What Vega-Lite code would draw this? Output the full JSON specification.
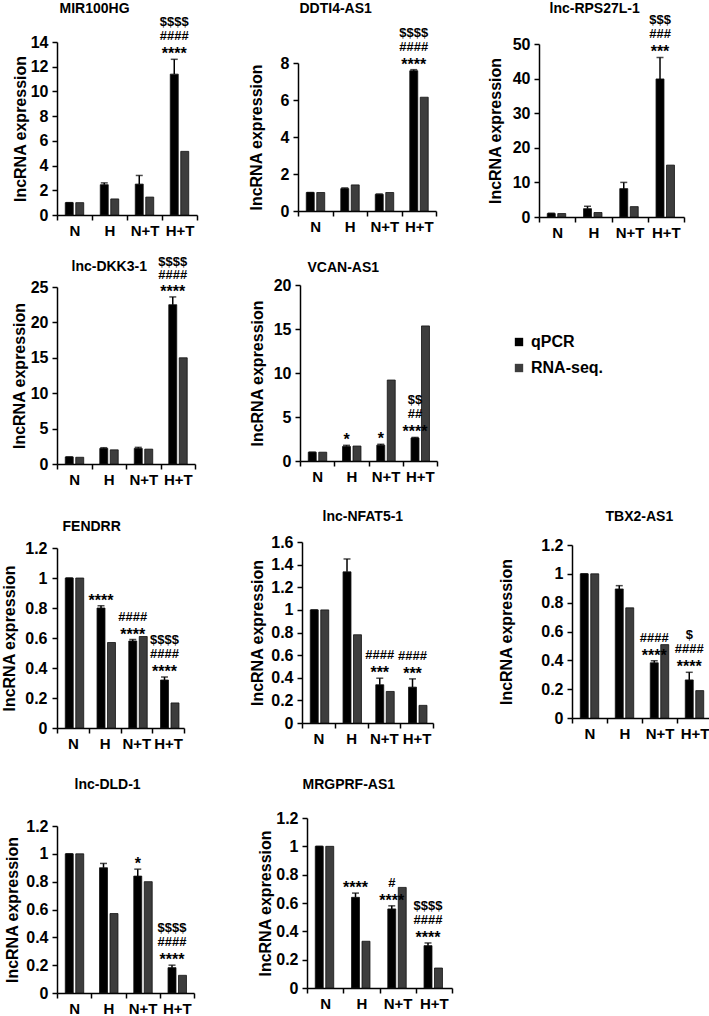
{
  "$schema": "https://vega.github.io/schema/vega-lite/v6.json",
  "background": "white",
  "padding": {"left": 1, "top": 1, "right": 0, "bottom": 0},
  "data": {"values": [
    {"g":"MIR100HG","c":"N","s":"qPCR","v":1.0,"hi":1.0},
    {"g":"MIR100HG","c":"N","s":"RNA-seq.","v":1.0},
    {"g":"MIR100HG","c":"H","s":"qPCR","v":2.45,"hi":2.6},
    {"g":"MIR100HG","c":"H","s":"RNA-seq.","v":1.3},
    {"g":"MIR100HG","c":"N+T","s":"qPCR","v":2.5,"hi":3.2},
    {"g":"MIR100HG","c":"N+T","s":"RNA-seq.","v":1.45},
    {"g":"MIR100HG","c":"H+T","s":"qPCR","v":11.4,"hi":12.6,"d":"$$$$","h":"####","a":"****"},
    {"g":"MIR100HG","c":"H+T","s":"RNA-seq.","v":5.15},
    {"g":"DDTI4-AS1","c":"N","s":"qPCR","v":1.0,"hi":1.0},
    {"g":"DDTI4-AS1","c":"N","s":"RNA-seq.","v":1.0},
    {"g":"DDTI4-AS1","c":"H","s":"qPCR","v":1.21,"hi":1.25},
    {"g":"DDTI4-AS1","c":"H","s":"RNA-seq.","v":1.41},
    {"g":"DDTI4-AS1","c":"N+T","s":"qPCR","v":0.9,"hi":0.92},
    {"g":"DDTI4-AS1","c":"N+T","s":"RNA-seq.","v":1.0},
    {"g":"DDTI4-AS1","c":"H+T","s":"qPCR","v":7.58,"hi":7.64,"d":"$$$$","h":"####","a":"****"},
    {"g":"DDTI4-AS1","c":"H+T","s":"RNA-seq.","v":6.15},
    {"g":"lnc-RPS27L-1","c":"N","s":"qPCR","v":1.0,"hi":1.1},
    {"g":"lnc-RPS27L-1","c":"N","s":"RNA-seq.","v":1.0},
    {"g":"lnc-RPS27L-1","c":"H","s":"qPCR","v":2.4,"hi":3.1},
    {"g":"lnc-RPS27L-1","c":"H","s":"RNA-seq.","v":1.3},
    {"g":"lnc-RPS27L-1","c":"N+T","s":"qPCR","v":8.2,"hi":10.0},
    {"g":"lnc-RPS27L-1","c":"N+T","s":"RNA-seq.","v":3.0},
    {"g":"lnc-RPS27L-1","c":"H+T","s":"qPCR","v":39.9,"hi":46.1,"d":"$$$","h":"###","a":"***"},
    {"g":"lnc-RPS27L-1","c":"H+T","s":"RNA-seq.","v":15.0},
    {"g":"lnc-DKK3-1","c":"N","s":"qPCR","v":1.0,"hi":1.0},
    {"g":"lnc-DKK3-1","c":"N","s":"RNA-seq.","v":0.95},
    {"g":"lnc-DKK3-1","c":"H","s":"qPCR","v":2.2,"hi":2.3},
    {"g":"lnc-DKK3-1","c":"H","s":"RNA-seq.","v":2.0},
    {"g":"lnc-DKK3-1","c":"N+T","s":"qPCR","v":2.2,"hi":2.35},
    {"g":"lnc-DKK3-1","c":"N+T","s":"RNA-seq.","v":2.1},
    {"g":"lnc-DKK3-1","c":"H+T","s":"qPCR","v":22.5,"hi":23.6,"d":"$$$$","h":"####","a":"****"},
    {"g":"lnc-DKK3-1","c":"H+T","s":"RNA-seq.","v":15.0},
    {"g":"VCAN-AS1","c":"N","s":"qPCR","v":1.0,"hi":1.0},
    {"g":"VCAN-AS1","c":"N","s":"RNA-seq.","v":1.0},
    {"g":"VCAN-AS1","c":"H","s":"qPCR","v":1.65,"hi":1.78,"a":"*"},
    {"g":"VCAN-AS1","c":"H","s":"RNA-seq.","v":1.7},
    {"g":"VCAN-AS1","c":"N+T","s":"qPCR","v":1.8,"hi":1.9,"a":"*"},
    {"g":"VCAN-AS1","c":"N+T","s":"RNA-seq.","v":9.2},
    {"g":"VCAN-AS1","c":"H+T","s":"qPCR","v":2.62,"hi":2.68,"d":"$$","h":"##","a":"****"},
    {"g":"VCAN-AS1","c":"H+T","s":"RNA-seq.","v":15.35},
    {"g":"FENDRR","c":"N","s":"qPCR","v":1.0,"hi":1.0},
    {"g":"FENDRR","c":"N","s":"RNA-seq.","v":1.0},
    {"g":"FENDRR","c":"H","s":"qPCR","v":0.8,"hi":0.815,"a":"****"},
    {"g":"FENDRR","c":"H","s":"RNA-seq.","v":0.57},
    {"g":"FENDRR","c":"N+T","s":"qPCR","v":0.58,"hi":0.59,"h":"####","a":"****"},
    {"g":"FENDRR","c":"N+T","s":"RNA-seq.","v":0.61},
    {"g":"FENDRR","c":"H+T","s":"qPCR","v":0.32,"hi":0.34,"d":"$$$$","h":"####","a":"****"},
    {"g":"FENDRR","c":"H+T","s":"RNA-seq.","v":0.167},
    {"g":"lnc-NFAT5-1","c":"N","s":"qPCR","v":1.0,"hi":1.0},
    {"g":"lnc-NFAT5-1","c":"N","s":"RNA-seq.","v":1.0},
    {"g":"lnc-NFAT5-1","c":"H","s":"qPCR","v":1.336,"hi":1.45},
    {"g":"lnc-NFAT5-1","c":"H","s":"RNA-seq.","v":0.78},
    {"g":"lnc-NFAT5-1","c":"N+T","s":"qPCR","v":0.338,"hi":0.396,"h":"####","a":"***"},
    {"g":"lnc-NFAT5-1","c":"N+T","s":"RNA-seq.","v":0.279},
    {"g":"lnc-NFAT5-1","c":"H+T","s":"qPCR","v":0.317,"hi":0.39,"h":"####","a":"***"},
    {"g":"lnc-NFAT5-1","c":"H+T","s":"RNA-seq.","v":0.156},
    {"g":"TBX2-AS1","c":"N","s":"qPCR","v":1.0,"hi":1.0},
    {"g":"TBX2-AS1","c":"N","s":"RNA-seq.","v":1.0},
    {"g":"TBX2-AS1","c":"H","s":"qPCR","v":0.895,"hi":0.918},
    {"g":"TBX2-AS1","c":"H","s":"RNA-seq.","v":0.764},
    {"g":"TBX2-AS1","c":"N+T","s":"qPCR","v":0.383,"hi":0.397,"h":"####","a":"****"},
    {"g":"TBX2-AS1","c":"N+T","s":"RNA-seq.","v":0.509},
    {"g":"TBX2-AS1","c":"H+T","s":"qPCR","v":0.264,"hi":0.317,"d":"$","h":"####","a":"****"},
    {"g":"TBX2-AS1","c":"H+T","s":"RNA-seq.","v":0.19},
    {"g":"lnc-DLD-1","c":"N","s":"qPCR","v":1.0,"hi":1.0},
    {"g":"lnc-DLD-1","c":"N","s":"RNA-seq.","v":1.0},
    {"g":"lnc-DLD-1","c":"H","s":"qPCR","v":0.9,"hi":0.931},
    {"g":"lnc-DLD-1","c":"H","s":"RNA-seq.","v":0.571},
    {"g":"lnc-DLD-1","c":"N+T","s":"qPCR","v":0.84,"hi":0.89,"a":"*"},
    {"g":"lnc-DLD-1","c":"N+T","s":"RNA-seq.","v":0.8},
    {"g":"lnc-DLD-1","c":"H+T","s":"qPCR","v":0.182,"hi":0.2,"d":"$$$$","h":"####","a":"****"},
    {"g":"lnc-DLD-1","c":"H+T","s":"RNA-seq.","v":0.127},
    {"g":"MRGPRF-AS1","c":"N","s":"qPCR","v":1.0,"hi":1.0},
    {"g":"MRGPRF-AS1","c":"N","s":"RNA-seq.","v":1.0},
    {"g":"MRGPRF-AS1","c":"H","s":"qPCR","v":0.64,"hi":0.67,"a":"****"},
    {"g":"MRGPRF-AS1","c":"H","s":"RNA-seq.","v":0.33},
    {"g":"MRGPRF-AS1","c":"N+T","s":"qPCR","v":0.558,"hi":0.58,"h":"#","a":"****"},
    {"g":"MRGPRF-AS1","c":"N+T","s":"RNA-seq.","v":0.71},
    {"g":"MRGPRF-AS1","c":"H+T","s":"qPCR","v":0.299,"hi":0.318,"d":"$$$$","h":"####","a":"****"},
    {"g":"MRGPRF-AS1","c":"H+T","s":"RNA-seq.","v":0.141}
  ]},
  "config": {
    "view": {"stroke": null},
    "font": "Liberation Sans",
    "axis": {"domainColor": "#000", "domainWidth": 1.5, "tickColor": "#000", "tickWidth": 1.5, "grid": false,
             "labelFont": "Liberation Sans", "labelFontWeight": "bold", "labelColor": "#000",
             "titleFont": "Liberation Sans", "titleFontWeight": "bold", "titleColor": "#000",
             "labelFlush": false, "labelOverlap": false},
    "axisY": {"labelFontSize": 16, "titleFontSize": 16, "tickSize": 5, "labelPadding": 4},
    "axisX": {"labelFontSize": 15, "labelAngle": 0, "tickSize": 5, "labelPadding": 3, "tickBand": "extent"},
    "axisTop": {"labels": false, "ticks": false, "domain": false, "titleFontSize": 14, "titleAlign": "left", "titleAnchor": "start", "titleBaseline": "alphabetic", "titlePadding": 0},
    "text": {"font": "Liberation Sans", "fontWeight": "bold", "baseline": "alphabetic", "color": "#000"}
  },
  "spacing": 15,
  "vconcat": [
    {"hconcat": [
      {"width": 140, "height": 173,
       "transform": [{"filter": "datum.g === 'MIR100HG'"}],
       "encoding": {"x": {"field": "c", "type": "nominal", "sort": ["N","H","N+T","H+T"], "scale": {"paddingInner": 0, "paddingOuter": 0}, "axis": {"title": null}},
                    "xOffset": {"field": "s", "type": "nominal", "sort": ["qPCR","RNA-seq."], "scale": {"paddingInner": 0.24, "paddingOuter": 0.79}},
                    "y": {"field": "v", "type": "quantitative", "scale": {"domain": [0, 14], "nice": false, "range": [173, 0]}, "axis": {"title": "lncRNA expression", "values": [0,2,4,6,8,10,12,14], "titlePadding": 2}}},
       "resolve": {"axis": {"x": "independent"}},
       "layer": [
         {"layer": [
           {"mark": {"type": "bar", "stroke": "#111", "strokeWidth": 0.8},
            "encoding": {"color": {"field": "s", "type": "nominal", "scale": {"domain": ["qPCR","RNA-seq."], "range": ["#000000","#3d3d3d"]}, "legend": {"orient": "none", "legendX": 454, "legendY": 292, "title": null, "symbolType": "square", "symbolSize": 70, "symbolStrokeWidth": 0, "labelFontSize": 16, "labelFontWeight": "bold", "labelFont": "Liberation Sans", "labelColor": "#000", "rowPadding": 10, "labelOffset": 4}}}},
           {"transform": [{"filter": "datum.s === 'qPCR'"}], "mark": {"type": "rule", "color": "#000", "strokeWidth": 1.5}, "encoding": {"y2": {"field": "hi"}}},
           {"transform": [{"filter": "isValid(datum.a)"}], "mark": {"type": "text", "fontSize": 16, "dy": 0}, "encoding": {"y": {"field": "hi", "type": "quantitative", "scale": {"domain": [0, 14], "nice": false, "range": [173, 0]}, "axis": {"title": "lncRNA expression", "values": [0,2,4,6,8,10,12,14], "titlePadding": 2}}, "text": {"field": "a"}}},
           {"transform": [{"filter": "isValid(datum.h)"}], "mark": {"type": "text", "fontSize": 13, "dy": -19}, "encoding": {"y": {"field": "hi", "type": "quantitative", "scale": {"domain": [0, 14], "nice": false, "range": [173, 0]}, "axis": {"title": "lncRNA expression", "values": [0,2,4,6,8,10,12,14], "titlePadding": 2}}, "text": {"field": "h"}}},
           {"transform": [{"filter": "isValid(datum.d)"}], "mark": {"type": "text", "fontSize": 13, "dy": -33}, "encoding": {"y": {"field": "hi", "type": "quantitative", "scale": {"domain": [0, 14], "nice": false, "range": [173, 0]}, "axis": {"title": "lncRNA expression", "values": [0,2,4,6,8,10,12,14], "titlePadding": 2}}, "text": {"field": "d"}}}
         ]},
         {"transform": [{"filter": "datum.s === 'qPCR'"}], "mark": {"type": "tick", "color": "#000", "thickness": 1.5, "size": 7},
          "encoding": {"x": {"field": "c", "type": "nominal", "sort": ["N","H","N+T","H+T"], "scale": {"paddingInner": 0, "paddingOuter": 0}, "axis": {"orient": "top", "title": "MIR100HG", "titleX": 2, "titleY": -30}},
                       "y": {"field": "hi", "type": "quantitative", "scale": {"domain": [0, 14], "nice": false, "range": [173, 0]}, "axis": {"title": "lncRNA expression", "values": [0,2,4,6,8,10,12,14], "titlePadding": 2}}}}
       ]},
      {"width": 138, "height": 169,
       "transform": [{"filter": "datum.g === 'DDTI4-AS1'"}],
       "encoding": {"x": {"field": "c", "type": "nominal", "sort": ["N","H","N+T","H+T"], "scale": {"paddingInner": 0, "paddingOuter": 0}, "axis": {"title": null}},
                    "xOffset": {"field": "s", "type": "nominal", "sort": ["qPCR","RNA-seq."], "scale": {"paddingInner": 0.24, "paddingOuter": 0.79}},
                    "y": {"field": "v", "type": "quantitative", "scale": {"domain": [0, 8], "nice": false, "range": [169, 21]}, "axis": {"title": "lncRNA expression", "values": [0,2,4,6,8], "titlePadding": 16}}},
       "resolve": {"axis": {"x": "independent"}},
       "layer": [
         {"layer": [
           {"mark": {"type": "bar", "stroke": "#111", "strokeWidth": 0.8},
            "encoding": {"color": {"field": "s", "type": "nominal", "scale": {"domain": ["qPCR","RNA-seq."], "range": ["#000000","#3d3d3d"]}, "legend": {"orient": "none", "legendX": 454, "legendY": 292, "title": null, "symbolType": "square", "symbolSize": 70, "symbolStrokeWidth": 0, "labelFontSize": 16, "labelFontWeight": "bold", "labelFont": "Liberation Sans", "labelColor": "#000", "rowPadding": 10, "labelOffset": 4}}}},
           {"transform": [{"filter": "datum.s === 'qPCR'"}], "mark": {"type": "rule", "color": "#000", "strokeWidth": 1.5}, "encoding": {"y2": {"field": "hi"}}},
           {"transform": [{"filter": "isValid(datum.a)"}], "mark": {"type": "text", "fontSize": 16, "dy": 0}, "encoding": {"y": {"field": "hi", "type": "quantitative", "scale": {"domain": [0, 8], "nice": false, "range": [169, 21]}, "axis": {"title": "lncRNA expression", "values": [0,2,4,6,8], "titlePadding": 16}}, "text": {"field": "a"}}},
           {"transform": [{"filter": "isValid(datum.h)"}], "mark": {"type": "text", "fontSize": 13, "dy": -19}, "encoding": {"y": {"field": "hi", "type": "quantitative", "scale": {"domain": [0, 8], "nice": false, "range": [169, 21]}, "axis": {"title": "lncRNA expression", "values": [0,2,4,6,8], "titlePadding": 16}}, "text": {"field": "h"}}},
           {"transform": [{"filter": "isValid(datum.d)"}], "mark": {"type": "text", "fontSize": 13, "dy": -33}, "encoding": {"y": {"field": "hi", "type": "quantitative", "scale": {"domain": [0, 8], "nice": false, "range": [169, 21]}, "axis": {"title": "lncRNA expression", "values": [0,2,4,6,8], "titlePadding": 16}}, "text": {"field": "d"}}}
         ]},
         {"transform": [{"filter": "datum.s === 'qPCR'"}], "mark": {"type": "tick", "color": "#000", "thickness": 1.5, "size": 7},
          "encoding": {"x": {"field": "c", "type": "nominal", "sort": ["N","H","N+T","H+T"], "scale": {"paddingInner": 0, "paddingOuter": 0}, "axis": {"orient": "top", "title": "DDTI4-AS1", "titleX": 1, "titleY": -30}},
                       "y": {"field": "hi", "type": "quantitative", "scale": {"domain": [0, 8], "nice": false, "range": [169, 21]}, "axis": {"title": "lncRNA expression", "values": [0,2,4,6,8], "titlePadding": 16}}}}
       ]},
      {"width": 145, "height": 175,
       "transform": [{"filter": "datum.g === 'lnc-RPS27L-1'"}],
       "encoding": {"x": {"field": "c", "type": "nominal", "sort": ["N","H","N+T","H+T"], "scale": {"paddingInner": 0, "paddingOuter": 0}, "axis": {"title": null}},
                    "xOffset": {"field": "s", "type": "nominal", "sort": ["qPCR","RNA-seq."], "scale": {"paddingInner": 0.24, "paddingOuter": 0.79}},
                    "y": {"field": "v", "type": "quantitative", "scale": {"domain": [0, 50], "nice": false, "range": [175, 2]}, "axis": {"title": "lncRNA expression", "values": [0,10,20,30,40,50], "titlePadding": 9}}},
       "resolve": {"axis": {"x": "independent"}},
       "layer": [
         {"layer": [
           {"mark": {"type": "bar", "stroke": "#111", "strokeWidth": 0.8},
            "encoding": {"color": {"field": "s", "type": "nominal", "scale": {"domain": ["qPCR","RNA-seq."], "range": ["#000000","#3d3d3d"]}, "legend": {"orient": "none", "legendX": 454, "legendY": 292, "title": null, "symbolType": "square", "symbolSize": 70, "symbolStrokeWidth": 0, "labelFontSize": 16, "labelFontWeight": "bold", "labelFont": "Liberation Sans", "labelColor": "#000", "rowPadding": 10, "labelOffset": 4}}}},
           {"transform": [{"filter": "datum.s === 'qPCR'"}], "mark": {"type": "rule", "color": "#000", "strokeWidth": 1.5}, "encoding": {"y2": {"field": "hi"}}},
           {"transform": [{"filter": "isValid(datum.a)"}], "mark": {"type": "text", "fontSize": 16, "dy": 0}, "encoding": {"y": {"field": "hi", "type": "quantitative", "scale": {"domain": [0, 50], "nice": false, "range": [175, 2]}, "axis": {"title": "lncRNA expression", "values": [0,10,20,30,40,50], "titlePadding": 9}}, "text": {"field": "a"}}},
           {"transform": [{"filter": "isValid(datum.h)"}], "mark": {"type": "text", "fontSize": 13, "dy": -19}, "encoding": {"y": {"field": "hi", "type": "quantitative", "scale": {"domain": [0, 50], "nice": false, "range": [175, 2]}, "axis": {"title": "lncRNA expression", "values": [0,10,20,30,40,50], "titlePadding": 9}}, "text": {"field": "h"}}},
           {"transform": [{"filter": "isValid(datum.d)"}], "mark": {"type": "text", "fontSize": 13, "dy": -33}, "encoding": {"y": {"field": "hi", "type": "quantitative", "scale": {"domain": [0, 50], "nice": false, "range": [175, 2]}, "axis": {"title": "lncRNA expression", "values": [0,10,20,30,40,50], "titlePadding": 9}}, "text": {"field": "d"}}}
         ]},
         {"transform": [{"filter": "datum.s === 'qPCR'"}], "mark": {"type": "tick", "color": "#000", "thickness": 1.5, "size": 7},
          "encoding": {"x": {"field": "c", "type": "nominal", "sort": ["N","H","N+T","H+T"], "scale": {"paddingInner": 0, "paddingOuter": 0}, "axis": {"orient": "top", "title": "lnc-RPS27L-1", "titleX": 10, "titleY": -30}},
                       "y": {"field": "hi", "type": "quantitative", "scale": {"domain": [0, 50], "nice": false, "range": [175, 2]}, "axis": {"title": "lncRNA expression", "values": [0,10,20,30,40,50], "titlePadding": 9}}}}
       ]}
    ], "spacing": 50},
    {"spacing": 22, "vconcat": [
      {"hconcat": [
        {"width": 138, "height": 179,
         "transform": [{"filter": "datum.g === 'lnc-DKK3-1'"}],
         "encoding": {"x": {"field": "c", "type": "nominal", "sort": ["N","H","N+T","H+T"], "scale": {"paddingInner": 0, "paddingOuter": 0}, "axis": {"title": null}},
                      "xOffset": {"field": "s", "type": "nominal", "sort": ["qPCR","RNA-seq."], "scale": {"paddingInner": 0.24, "paddingOuter": 0.79}},
                      "y": {"field": "v", "type": "quantitative", "scale": {"domain": [0, 25], "nice": false, "range": [179, 2]}, "axis": {"title": "lncRNA expression", "values": [0,5,10,15,20,25], "titlePadding": 3}}},
         "resolve": {"axis": {"x": "independent"}},
         "layer": [
           {"layer": [
             {"mark": {"type": "bar", "stroke": "#111", "strokeWidth": 0.8},
              "encoding": {"color": {"field": "s", "type": "nominal", "scale": {"domain": ["qPCR","RNA-seq."], "range": ["#000000","#3d3d3d"]}, "legend": {"orient": "none", "legendX": 454, "legendY": 292, "title": null, "symbolType": "square", "symbolSize": 70, "symbolStrokeWidth": 0, "labelFontSize": 16, "labelFontWeight": "bold", "labelFont": "Liberation Sans", "labelColor": "#000", "rowPadding": 10, "labelOffset": 4}}}},
             {"transform": [{"filter": "datum.s === 'qPCR'"}], "mark": {"type": "rule", "color": "#000", "strokeWidth": 1.5}, "encoding": {"y2": {"field": "hi"}}},
             {"transform": [{"filter": "isValid(datum.a)"}], "mark": {"type": "text", "fontSize": 16, "dy": 0}, "encoding": {"y": {"field": "hi", "type": "quantitative", "scale": {"domain": [0, 25], "nice": false, "range": [179, 2]}, "axis": {"title": "lncRNA expression", "values": [0,5,10,15,20,25], "titlePadding": 3}}, "text": {"field": "a"}}},
             {"transform": [{"filter": "isValid(datum.h)"}], "mark": {"type": "text", "fontSize": 13, "dy": -18}, "encoding": {"y": {"field": "hi", "type": "quantitative", "scale": {"domain": [0, 25], "nice": false, "range": [179, 2]}, "axis": {"title": "lncRNA expression", "values": [0,5,10,15,20,25], "titlePadding": 3}}, "text": {"field": "h"}}},
             {"transform": [{"filter": "isValid(datum.d)"}], "mark": {"type": "text", "fontSize": 13, "dy": -31}, "encoding": {"y": {"field": "hi", "type": "quantitative", "scale": {"domain": [0, 25], "nice": false, "range": [179, 2]}, "axis": {"title": "lncRNA expression", "values": [0,5,10,15,20,25], "titlePadding": 3}}, "text": {"field": "d"}}}
           ]},
           {"transform": [{"filter": "datum.s === 'qPCR'"}], "mark": {"type": "tick", "color": "#000", "thickness": 1.5, "size": 7},
            "encoding": {"x": {"field": "c", "type": "nominal", "sort": ["N","H","N+T","H+T"], "scale": {"paddingInner": 0, "paddingOuter": 0}, "axis": {"orient": "top", "title": "lnc-DKK3-1", "titleX": 14, "titleY": -15}},
                         "y": {"field": "hi", "type": "quantitative", "scale": {"domain": [0, 25], "nice": false, "range": [179, 2]}, "axis": {"title": "lncRNA expression", "values": [0,5,10,15,20,25], "titlePadding": 3}}}}
         ]},
        {"width": 137, "height": 176,
         "transform": [{"filter": "datum.g === 'VCAN-AS1'"}],
         "encoding": {"x": {"field": "c", "type": "nominal", "sort": ["N","H","N+T","H+T"], "scale": {"paddingInner": 0, "paddingOuter": 0}, "axis": {"title": null}},
                      "xOffset": {"field": "s", "type": "nominal", "sort": ["qPCR","RNA-seq."], "scale": {"paddingInner": 0.24, "paddingOuter": 0.79}},
                      "y": {"field": "v", "type": "quantitative", "scale": {"domain": [0, 20], "nice": false, "range": [176, 0]}, "axis": {"title": "lncRNA expression", "values": [0,5,10,15,20], "titlePadding": 8}}},
         "resolve": {"axis": {"x": "independent"}},
         "layer": [
           {"layer": [
             {"mark": {"type": "bar", "stroke": "#111", "strokeWidth": 0.8},
              "encoding": {"color": {"field": "s", "type": "nominal", "scale": {"domain": ["qPCR","RNA-seq."], "range": ["#000000","#3d3d3d"]}, "legend": {"orient": "none", "legendX": 454, "legendY": 292, "title": null, "symbolType": "square", "symbolSize": 70, "symbolStrokeWidth": 0, "labelFontSize": 16, "labelFontWeight": "bold", "labelFont": "Liberation Sans", "labelColor": "#000", "rowPadding": 10, "labelOffset": 4}}}},
             {"transform": [{"filter": "datum.s === 'qPCR'"}], "mark": {"type": "rule", "color": "#000", "strokeWidth": 1.5}, "encoding": {"y2": {"field": "hi"}}},
             {"transform": [{"filter": "isValid(datum.a)"}], "mark": {"type": "text", "fontSize": 16, "dy": 0}, "encoding": {"y": {"field": "hi", "type": "quantitative", "scale": {"domain": [0, 20], "nice": false, "range": [176, 0]}, "axis": {"title": "lncRNA expression", "values": [0,5,10,15,20], "titlePadding": 8}}, "text": {"field": "a"}}},
             {"transform": [{"filter": "isValid(datum.h)"}], "mark": {"type": "text", "fontSize": 13, "dy": -19}, "encoding": {"y": {"field": "hi", "type": "quantitative", "scale": {"domain": [0, 20], "nice": false, "range": [176, 0]}, "axis": {"title": "lncRNA expression", "values": [0,5,10,15,20], "titlePadding": 8}}, "text": {"field": "h"}}},
             {"transform": [{"filter": "isValid(datum.d)"}], "mark": {"type": "text", "fontSize": 13, "dy": -33}, "encoding": {"y": {"field": "hi", "type": "quantitative", "scale": {"domain": [0, 20], "nice": false, "range": [176, 0]}, "axis": {"title": "lncRNA expression", "values": [0,5,10,15,20], "titlePadding": 8}}, "text": {"field": "d"}}}
           ]},
           {"transform": [{"filter": "datum.s === 'qPCR'"}], "mark": {"type": "tick", "color": "#000", "thickness": 1.5, "size": 7},
            "encoding": {"x": {"field": "c", "type": "nominal", "sort": ["N","H","N+T","H+T"], "scale": {"paddingInner": 0, "paddingOuter": 0}, "axis": {"orient": "top", "title": "VCAN-AS1", "titleX": 7, "titleY": -14}},
                         "y": {"field": "hi", "type": "quantitative", "scale": {"domain": [0, 20], "nice": false, "range": [176, 0]}, "axis": {"title": "lncRNA expression", "values": [0,5,10,15,20], "titlePadding": 8}}}}
         ]}
      ], "spacing": 53},
      {"spacing": 26, "vconcat": [
        {"hconcat": [
          {"width": 127, "height": 186,
           "transform": [{"filter": "datum.g === 'FENDRR'"}],
           "encoding": {"x": {"field": "c", "type": "nominal", "sort": ["N","H","N+T","H+T"], "scale": {"paddingInner": 0, "paddingOuter": 0}, "axis": {"title": null}},
                        "xOffset": {"field": "s", "type": "nominal", "sort": ["qPCR","RNA-seq."], "scale": {"paddingInner": 0.24, "paddingOuter": 0.79}},
                        "y": {"field": "v", "type": "quantitative", "scale": {"domain": [0, 1.2], "nice": false, "range": [186, 6]}, "axis": {"title": "lncRNA expression", "values": [0,0.2,0.4,0.6,0.8,1,1.2], "format": "~g", "titlePadding": 7, "labelPadding": 5}}},
           "resolve": {"axis": {"x": "independent"}},
           "layer": [
             {"layer": [
               {"mark": {"type": "bar", "stroke": "#111", "strokeWidth": 0.8},
                "encoding": {"color": {"field": "s", "type": "nominal", "scale": {"domain": ["qPCR","RNA-seq."], "range": ["#000000","#3d3d3d"]}, "legend": {"orient": "none", "legendX": 454, "legendY": 292, "title": null, "symbolType": "square", "symbolSize": 70, "symbolStrokeWidth": 0, "labelFontSize": 16, "labelFontWeight": "bold", "labelFont": "Liberation Sans", "labelColor": "#000", "rowPadding": 10, "labelOffset": 4}}}},
               {"transform": [{"filter": "datum.s === 'qPCR'"}], "mark": {"type": "rule", "color": "#000", "strokeWidth": 1.5}, "encoding": {"y2": {"field": "hi"}}},
               {"transform": [{"filter": "isValid(datum.a)"}], "mark": {"type": "text", "fontSize": 16, "dy": 0}, "encoding": {"y": {"field": "hi", "type": "quantitative", "scale": {"domain": [0, 1.2], "nice": false, "range": [186, 6]}, "axis": {"title": "lncRNA expression", "values": [0,0.2,0.4,0.6,0.8,1,1.2], "format": "~g", "titlePadding": 7, "labelPadding": 5}}, "text": {"field": "a"}}},
               {"transform": [{"filter": "isValid(datum.h)"}], "mark": {"type": "text", "fontSize": 13, "dy": -19}, "encoding": {"y": {"field": "hi", "type": "quantitative", "scale": {"domain": [0, 1.2], "nice": false, "range": [186, 6]}, "axis": {"title": "lncRNA expression", "values": [0,0.2,0.4,0.6,0.8,1,1.2], "format": "~g", "titlePadding": 7, "labelPadding": 5}}, "text": {"field": "h"}}},
               {"transform": [{"filter": "isValid(datum.d)"}], "mark": {"type": "text", "fontSize": 13, "dy": -33}, "encoding": {"y": {"field": "hi", "type": "quantitative", "scale": {"domain": [0, 1.2], "nice": false, "range": [186, 6]}, "axis": {"title": "lncRNA expression", "values": [0,0.2,0.4,0.6,0.8,1,1.2], "format": "~g", "titlePadding": 7, "labelPadding": 5}}, "text": {"field": "d"}}}
             ]},
             {"transform": [{"filter": "datum.s === 'qPCR'"}], "mark": {"type": "tick", "color": "#000", "thickness": 1.5, "size": 7},
              "encoding": {"x": {"field": "c", "type": "nominal", "sort": ["N","H","N+T","H+T"], "scale": {"paddingInner": 0, "paddingOuter": 0}, "axis": {"orient": "top", "title": "FENDRR", "titleX": 5, "titleY": -12}},
                           "y": {"field": "hi", "type": "quantitative", "scale": {"domain": [0, 1.2], "nice": false, "range": [186, 6]}, "axis": {"title": "lncRNA expression", "values": [0,0.2,0.4,0.6,0.8,1,1.2], "format": "~g", "titlePadding": 7, "labelPadding": 5}}}}
           ]},
          {"width": 131, "height": 181,
           "transform": [{"filter": "datum.g === 'lnc-NFAT5-1'"}],
           "encoding": {"x": {"field": "c", "type": "nominal", "sort": ["N","H","N+T","H+T"], "scale": {"paddingInner": 0, "paddingOuter": 0}, "axis": {"title": null}},
                        "xOffset": {"field": "s", "type": "nominal", "sort": ["qPCR","RNA-seq."], "scale": {"paddingInner": 0.24, "paddingOuter": 0.79}},
                        "y": {"field": "v", "type": "quantitative", "scale": {"domain": [0, 1.6], "nice": false, "range": [181, 0]}, "axis": {"title": "lncRNA expression", "values": [0,0.2,0.4,0.6,0.8,1,1.2,1.4,1.6], "format": "~g", "titlePadding": 5}}},
           "resolve": {"axis": {"x": "independent"}},
           "layer": [
             {"layer": [
               {"mark": {"type": "bar", "stroke": "#111", "strokeWidth": 0.8},
                "encoding": {"color": {"field": "s", "type": "nominal", "scale": {"domain": ["qPCR","RNA-seq."], "range": ["#000000","#3d3d3d"]}, "legend": {"orient": "none", "legendX": 454, "legendY": 292, "title": null, "symbolType": "square", "symbolSize": 70, "symbolStrokeWidth": 0, "labelFontSize": 16, "labelFontWeight": "bold", "labelFont": "Liberation Sans", "labelColor": "#000", "rowPadding": 10, "labelOffset": 4}}}},
               {"transform": [{"filter": "datum.s === 'qPCR'"}], "mark": {"type": "rule", "color": "#000", "strokeWidth": 1.5}, "encoding": {"y2": {"field": "hi"}}},
               {"transform": [{"filter": "isValid(datum.a)"}], "mark": {"type": "text", "fontSize": 16, "dy": 0}, "encoding": {"y": {"field": "hi", "type": "quantitative", "scale": {"domain": [0, 1.6], "nice": false, "range": [181, 0]}, "axis": {"title": "lncRNA expression", "values": [0,0.2,0.4,0.6,0.8,1,1.2,1.4,1.6], "format": "~g", "titlePadding": 5}}, "text": {"field": "a"}}},
               {"transform": [{"filter": "isValid(datum.h)"}], "mark": {"type": "text", "fontSize": 13, "dy": -19}, "encoding": {"y": {"field": "hi", "type": "quantitative", "scale": {"domain": [0, 1.6], "nice": false, "range": [181, 0]}, "axis": {"title": "lncRNA expression", "values": [0,0.2,0.4,0.6,0.8,1,1.2,1.4,1.6], "format": "~g", "titlePadding": 5}}, "text": {"field": "h"}}},
               {"transform": [{"filter": "isValid(datum.d)"}], "mark": {"type": "text", "fontSize": 13, "dy": -33}, "encoding": {"y": {"field": "hi", "type": "quantitative", "scale": {"domain": [0, 1.6], "nice": false, "range": [181, 0]}, "axis": {"title": "lncRNA expression", "values": [0,0.2,0.4,0.6,0.8,1,1.2,1.4,1.6], "format": "~g", "titlePadding": 5}}, "text": {"field": "d"}}}
             ]},
             {"transform": [{"filter": "datum.s === 'qPCR'"}], "mark": {"type": "tick", "color": "#000", "thickness": 1.5, "size": 7},
              "encoding": {"x": {"field": "c", "type": "nominal", "sort": ["N","H","N+T","H+T"], "scale": {"paddingInner": 0, "paddingOuter": 0}, "axis": {"orient": "top", "title": "lnc-NFAT5-1", "titleX": 20, "titleY": -22}},
                           "y": {"field": "hi", "type": "quantitative", "scale": {"domain": [0, 1.6], "nice": false, "range": [181, 0]}, "axis": {"title": "lncRNA expression", "values": [0,0.2,0.4,0.6,0.8,1,1.2,1.4,1.6], "format": "~g", "titlePadding": 5}}}}
           ]},
          {"width": 140, "height": 176,
           "transform": [{"filter": "datum.g === 'TBX2-AS1'"}],
           "encoding": {"x": {"field": "c", "type": "nominal", "sort": ["N","H","N+T","H+T"], "scale": {"paddingInner": 0, "paddingOuter": 0}, "axis": {"title": null}},
                        "xOffset": {"field": "s", "type": "nominal", "sort": ["qPCR","RNA-seq."], "scale": {"paddingInner": 0.24, "paddingOuter": 0.79}},
                        "y": {"field": "v", "type": "quantitative", "scale": {"domain": [0, 1.2], "nice": false, "range": [176, 3]}, "axis": {"title": "lncRNA expression", "values": [0,0.2,0.4,0.6,0.8,1,1.2], "format": "~g", "titlePadding": 26}}},
           "resolve": {"axis": {"x": "independent"}},
           "layer": [
             {"layer": [
               {"mark": {"type": "bar", "stroke": "#111", "strokeWidth": 0.8},
                "encoding": {"color": {"field": "s", "type": "nominal", "scale": {"domain": ["qPCR","RNA-seq."], "range": ["#000000","#3d3d3d"]}, "legend": {"orient": "none", "legendX": 454, "legendY": 292, "title": null, "symbolType": "square", "symbolSize": 70, "symbolStrokeWidth": 0, "labelFontSize": 16, "labelFontWeight": "bold", "labelFont": "Liberation Sans", "labelColor": "#000", "rowPadding": 10, "labelOffset": 4}}}},
               {"transform": [{"filter": "datum.s === 'qPCR'"}], "mark": {"type": "rule", "color": "#000", "strokeWidth": 1.5}, "encoding": {"y2": {"field": "hi"}}},
               {"transform": [{"filter": "isValid(datum.a)"}], "mark": {"type": "text", "fontSize": 16, "dy": 0}, "encoding": {"y": {"field": "hi", "type": "quantitative", "scale": {"domain": [0, 1.2], "nice": false, "range": [176, 3]}, "axis": {"title": "lncRNA expression", "values": [0,0.2,0.4,0.6,0.8,1,1.2], "format": "~g", "titlePadding": 26}}, "text": {"field": "a"}}},
               {"transform": [{"filter": "isValid(datum.h)"}], "mark": {"type": "text", "fontSize": 13, "dy": -19}, "encoding": {"y": {"field": "hi", "type": "quantitative", "scale": {"domain": [0, 1.2], "nice": false, "range": [176, 3]}, "axis": {"title": "lncRNA expression", "values": [0,0.2,0.4,0.6,0.8,1,1.2], "format": "~g", "titlePadding": 26}}, "text": {"field": "h"}}},
               {"transform": [{"filter": "isValid(datum.d)"}], "mark": {"type": "text", "fontSize": 13, "dy": -33}, "encoding": {"y": {"field": "hi", "type": "quantitative", "scale": {"domain": [0, 1.2], "nice": false, "range": [176, 3]}, "axis": {"title": "lncRNA expression", "values": [0,0.2,0.4,0.6,0.8,1,1.2], "format": "~g", "titlePadding": 26}}, "text": {"field": "d"}}}
             ]},
             {"transform": [{"filter": "datum.s === 'qPCR'"}], "mark": {"type": "tick", "color": "#000", "thickness": 1.5, "size": 7},
              "encoding": {"x": {"field": "c", "type": "nominal", "sort": ["N","H","N+T","H+T"], "scale": {"paddingInner": 0, "paddingOuter": 0}, "axis": {"orient": "top", "title": "TBX2-AS1", "titleX": 33, "titleY": -22}},
                           "y": {"field": "hi", "type": "quantitative", "scale": {"domain": [0, 1.2], "nice": false, "range": [176, 3]}, "axis": {"title": "lncRNA expression", "values": [0,0.2,0.4,0.6,0.8,1,1.2], "format": "~g", "titlePadding": 26}}}}
           ]}
        ], "spacing": 64},
        {"hconcat": [
          {"width": 137, "height": 175,
           "transform": [{"filter": "datum.g === 'lnc-DLD-1'"}],
           "encoding": {"x": {"field": "c", "type": "nominal", "sort": ["N","H","N+T","H+T"], "scale": {"paddingInner": 0, "paddingOuter": 0}, "axis": {"title": null}},
                        "xOffset": {"field": "s", "type": "nominal", "sort": ["qPCR","RNA-seq."], "scale": {"paddingInner": 0.24, "paddingOuter": 0.79}},
                        "y": {"field": "v", "type": "quantitative", "scale": {"domain": [0, 1.2], "nice": false, "range": [175, 8]}, "axis": {"title": "lncRNA expression", "values": [0,0.2,0.4,0.6,0.8,1,1.2], "format": "~g", "titlePadding": 5}}},
           "resolve": {"axis": {"x": "independent"}},
           "layer": [
             {"layer": [
               {"mark": {"type": "bar", "stroke": "#111", "strokeWidth": 0.8},
                "encoding": {"color": {"field": "s", "type": "nominal", "scale": {"domain": ["qPCR","RNA-seq."], "range": ["#000000","#3d3d3d"]}, "legend": {"orient": "none", "legendX": 454, "legendY": 292, "title": null, "symbolType": "square", "symbolSize": 70, "symbolStrokeWidth": 0, "labelFontSize": 16, "labelFontWeight": "bold", "labelFont": "Liberation Sans", "labelColor": "#000", "rowPadding": 10, "labelOffset": 4}}}},
               {"transform": [{"filter": "datum.s === 'qPCR'"}], "mark": {"type": "rule", "color": "#000", "strokeWidth": 1.5}, "encoding": {"y2": {"field": "hi"}}},
               {"transform": [{"filter": "isValid(datum.a)"}], "mark": {"type": "text", "fontSize": 16, "dy": 0}, "encoding": {"y": {"field": "hi", "type": "quantitative", "scale": {"domain": [0, 1.2], "nice": false, "range": [175, 8]}, "axis": {"title": "lncRNA expression", "values": [0,0.2,0.4,0.6,0.8,1,1.2], "format": "~g", "titlePadding": 5}}, "text": {"field": "a"}}},
               {"transform": [{"filter": "isValid(datum.h)"}], "mark": {"type": "text", "fontSize": 13, "dy": -19}, "encoding": {"y": {"field": "hi", "type": "quantitative", "scale": {"domain": [0, 1.2], "nice": false, "range": [175, 8]}, "axis": {"title": "lncRNA expression", "values": [0,0.2,0.4,0.6,0.8,1,1.2], "format": "~g", "titlePadding": 5}}, "text": {"field": "h"}}},
               {"transform": [{"filter": "isValid(datum.d)"}], "mark": {"type": "text", "fontSize": 13, "dy": -33}, "encoding": {"y": {"field": "hi", "type": "quantitative", "scale": {"domain": [0, 1.2], "nice": false, "range": [175, 8]}, "axis": {"title": "lncRNA expression", "values": [0,0.2,0.4,0.6,0.8,1,1.2], "format": "~g", "titlePadding": 5}}, "text": {"field": "d"}}}
             ]},
             {"transform": [{"filter": "datum.s === 'qPCR'"}], "mark": {"type": "tick", "color": "#000", "thickness": 1.5, "size": 7},
              "encoding": {"x": {"field": "c", "type": "nominal", "sort": ["N","H","N+T","H+T"], "scale": {"paddingInner": 0, "paddingOuter": 0}, "axis": {"orient": "top", "title": "lnc-DLD-1", "titleX": 17, "titleY": -30}},
                           "y": {"field": "hi", "type": "quantitative", "scale": {"domain": [0, 1.2], "nice": false, "range": [175, 8]}, "axis": {"title": "lncRNA expression", "values": [0,0.2,0.4,0.6,0.8,1,1.2], "format": "~g", "titlePadding": 5}}}}
           ]},
          {"width": 145, "height": 170,
           "transform": [{"filter": "datum.g === 'MRGPRF-AS1'"}],
           "encoding": {"x": {"field": "c", "type": "nominal", "sort": ["N","H","N+T","H+T"], "scale": {"paddingInner": 0, "paddingOuter": 0}, "axis": {"title": null}},
                        "xOffset": {"field": "s", "type": "nominal", "sort": ["qPCR","RNA-seq."], "scale": {"paddingInner": 0.24, "paddingOuter": 0.79}},
                        "y": {"field": "v", "type": "quantitative", "scale": {"domain": [0, 1.2], "nice": false, "range": [170, 0]}, "axis": {"title": "lncRNA expression", "values": [0,0.2,0.4,0.6,0.8,1,1.2], "format": "~g", "titlePadding": 2}}},
           "resolve": {"axis": {"x": "independent"}},
           "layer": [
             {"layer": [
               {"mark": {"type": "bar", "stroke": "#111", "strokeWidth": 0.8},
                "encoding": {"color": {"field": "s", "type": "nominal", "scale": {"domain": ["qPCR","RNA-seq."], "range": ["#000000","#3d3d3d"]}, "legend": {"orient": "none", "legendX": 454, "legendY": 292, "title": null, "symbolType": "square", "symbolSize": 70, "symbolStrokeWidth": 0, "labelFontSize": 16, "labelFontWeight": "bold", "labelFont": "Liberation Sans", "labelColor": "#000", "rowPadding": 10, "labelOffset": 4}}}},
               {"transform": [{"filter": "datum.s === 'qPCR'"}], "mark": {"type": "rule", "color": "#000", "strokeWidth": 1.5}, "encoding": {"y2": {"field": "hi"}}},
               {"transform": [{"filter": "isValid(datum.a)"}], "mark": {"type": "text", "fontSize": 16, "dy": 0}, "encoding": {"y": {"field": "hi", "type": "quantitative", "scale": {"domain": [0, 1.2], "nice": false, "range": [170, 0]}, "axis": {"title": "lncRNA expression", "values": [0,0.2,0.4,0.6,0.8,1,1.2], "format": "~g", "titlePadding": 2}}, "text": {"field": "a"}}},
               {"transform": [{"filter": "isValid(datum.h)"}], "mark": {"type": "text", "fontSize": 13, "dy": -19}, "encoding": {"y": {"field": "hi", "type": "quantitative", "scale": {"domain": [0, 1.2], "nice": false, "range": [170, 0]}, "axis": {"title": "lncRNA expression", "values": [0,0.2,0.4,0.6,0.8,1,1.2], "format": "~g", "titlePadding": 2}}, "text": {"field": "h"}}},
               {"transform": [{"filter": "isValid(datum.d)"}], "mark": {"type": "text", "fontSize": 13, "dy": -33}, "encoding": {"y": {"field": "hi", "type": "quantitative", "scale": {"domain": [0, 1.2], "nice": false, "range": [170, 0]}, "axis": {"title": "lncRNA expression", "values": [0,0.2,0.4,0.6,0.8,1,1.2], "format": "~g", "titlePadding": 2}}, "text": {"field": "d"}}}
             ]},
             {"transform": [{"filter": "datum.s === 'qPCR'"}], "mark": {"type": "tick", "color": "#000", "thickness": 1.5, "size": 7},
              "encoding": {"x": {"field": "c", "type": "nominal", "sort": ["N","H","N+T","H+T"], "scale": {"paddingInner": 0, "paddingOuter": 0}, "axis": {"orient": "top", "title": "MRGPRF-AS1", "titleX": -5, "titleY": -30}},
                           "y": {"field": "hi", "type": "quantitative", "scale": {"domain": [0, 1.2], "nice": false, "range": [170, 0]}, "axis": {"title": "lncRNA expression", "values": [0,0.2,0.4,0.6,0.8,1,1.2], "format": "~g", "titlePadding": 2}}}}
           ]}
        ], "spacing": 62}
      ]}
    ]}
  ]
}
